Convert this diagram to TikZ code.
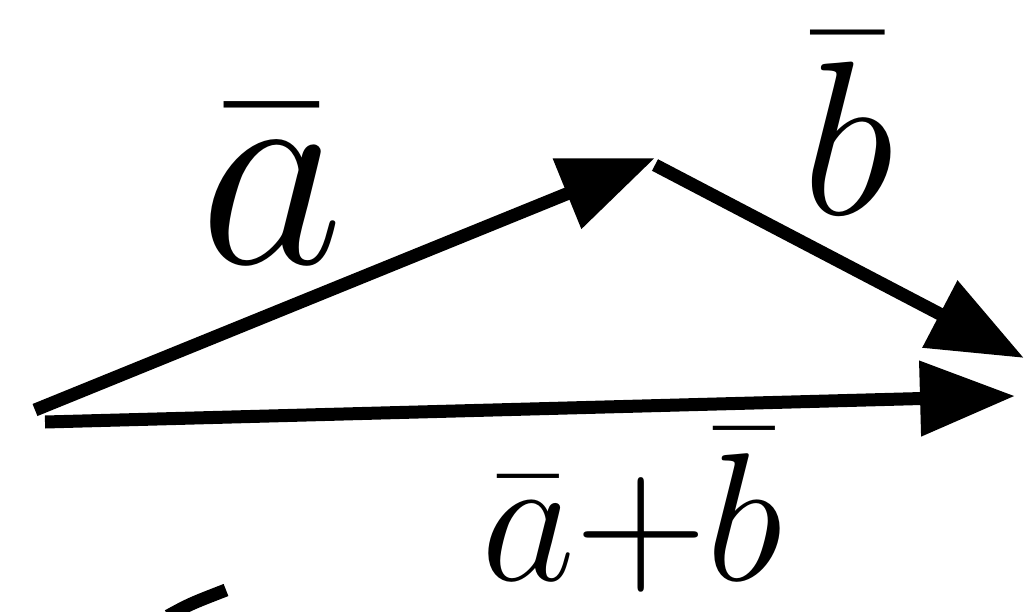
\RequirePackage{fix-cm}
\documentclass[tikz,border=0pt]{standalone}
\usetikzlibrary{arrows.meta}
\begin{document}
\begin{tikzpicture}[x=0.02cm,y=-0.02cm,
  vec/.style={line width=0.26cm,-{Triangle[length=1.9cm,width=1.45cm]}},
  stroke/.style={line width=0.26cm},
  lbl/.style={inner sep=0pt,font=\fontsize{150}{150}\selectfont}]
\useasboundingbox (0,0) rectangle (1025,612);
\coordinate (A0) at (35,410);
\coordinate (A1) at (655,158);
\coordinate (B0) at (655,165);
\coordinate (B1) at (1024,358);
\coordinate (S0) at (45,422);
\coordinate (S1) at (1015,396);
\draw[vec] (A0) -- (A1);
\draw[vec] (B0) -- (B1);
\draw[vec] (S0) -- (S1);
\node[lbl,font=\fontsize{160}{160}\selectfont] (la) at (272,185) {$\bar{a}$};
\node[lbl,font=\fontsize{125}{125}\selectfont] (lb) at (848,124) {$\bar{b}$};
\node[lbl,font=\fontsize{104}{104}\selectfont,anchor=base] (ls) at (632,580) {$\bar{a}{+}\bar{b}$};
\coordinate (M0) at (168,616);
\coordinate (M1) at (226,590);
\draw[stroke] (M0) .. controls (190,604) .. (M1);
\end{tikzpicture}
\end{document}
